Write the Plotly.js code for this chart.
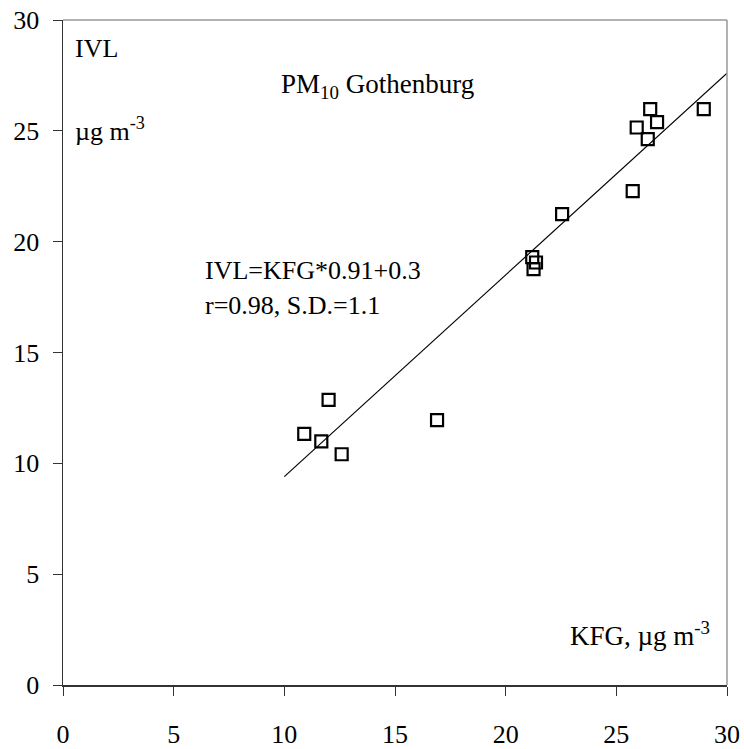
<!DOCTYPE html>
<html>
<head>
<meta charset="utf-8">
<script src="https://cdn.plot.ly/plotly-3.0.1.min.js"></script>
<style>html,body{margin:0;padding:0;background:#fff;}#chart{width:744px;height:749px;}</style>
</head>
<body>
<div id="chart"></div>
<script>
// KFG (x) vs IVL (y), PM10 Gothenburg
var kfg = [10.9, 11.67, 12.0, 12.59, 16.9, 21.2, 21.26, 21.37, 22.55, 25.74, 25.92, 26.42, 26.53, 26.84, 28.95];
var ivl = [11.33, 10.99, 12.86, 10.41, 11.95, 19.3, 18.76, 19.06, 21.24, 22.28, 25.15, 24.63, 25.98, 25.39, 25.98];
// regression line IVL = KFG*0.91 + 0.3
var fitX = [10, 30];
var fitY = [9.4, 27.6];
var xTicks = [0, 5, 10, 15, 20, 25, 30];
var yTicks = [0, 5, 10, 15, 20, 25, 30];

var font = "Liberation Serif, Times New Roman, serif";
var fs = 26;

var traces = [
  {x: fitX, y: fitY, mode: 'lines', line: {color: '#000', width: 1.2}, hoverinfo: 'skip', showlegend: false},
  {x: kfg, y: ivl, mode: 'markers', showlegend: false,
   marker: {symbol: 'square-open', size: 12, color: '#000', line: {width: 2.2, color: '#000'}}}
];

var layout = {
  width: 744, height: 749,
  margin: {l: 63, r: 17, t: 20, b: 64},
  paper_bgcolor: '#fff', plot_bgcolor: '#fff',
  font: {family: font, size: fs, color: '#000'},
  showlegend: false,
  xaxis: {range: [0, 30], tickvals: xTicks, ticktext: xTicks.map(String), showgrid: false, zeroline: false,
          showline: true, linecolor: '#333', linewidth: 1.5, ticks: 'outside', ticklen: 9, tickcolor: '#333', tickwidth: 1,
          ticklabelstandoff: 16, tickfont: {family: font, size: fs}},
  yaxis: {range: [0, 30], tickvals: yTicks, ticktext: yTicks.map(String), showgrid: false, zeroline: false,
          showline: true, linecolor: '#333', linewidth: 1.5, ticks: 'outside', ticklen: 9, tickcolor: '#333', tickwidth: 1,
          ticklabelstandoff: 8, tickfont: {family: font, size: fs}},
  shapes: [
    {type: 'line', xref: 'paper', yref: 'paper', x0: 0, x1: 1, y0: 1, y1: 1, line: {color: '#999', width: 1.5}},
    {type: 'line', xref: 'paper', yref: 'paper', x0: 1, x1: 1, y0: 0, y1: 1, line: {color: '#999', width: 1.5}}
  ],
  annotations: [
    {xref: 'paper', yref: 'paper', x: 0.015, y: 0.957, xanchor: 'left', yanchor: 'middle', showarrow: false, text: 'IVL', font: {family: font, size: fs}},
    {xref: 'paper', yref: 'paper', x: 0.015, y: 0.835, xanchor: 'left', yanchor: 'middle', showarrow: false, text: 'µg m<sup>-3</sup>', font: {family: font, size: fs}},
    {xref: 'paper', yref: 'paper', x: 0.474, y: 0.9, xanchor: 'center', yanchor: 'middle', showarrow: false, text: 'PM<sub>10</sub> Gothenburg', font: {family: font, size: 27}},
    {xref: 'paper', yref: 'paper', x: 0.211, y: 0.624, xanchor: 'left', yanchor: 'middle', showarrow: false, text: 'IVL=KFG*0.91+0.3', font: {family: font, size: fs}},
    {xref: 'paper', yref: 'paper', x: 0.211, y: 0.571, xanchor: 'left', yanchor: 'middle', showarrow: false, text: 'r=0.98, S.D.=1.1', font: {family: font, size: fs}},
    {xref: 'paper', yref: 'paper', x: 0.978, y: 0.076, xanchor: 'right', yanchor: 'middle', showarrow: false, text: 'KFG, µg m<sup>-3</sup>', font: {family: font, size: 27}}
  ]
};

Plotly.newPlot('chart', traces, layout, {staticPlot: true, displayModeBar: false});
</script>
</body>
</html>
